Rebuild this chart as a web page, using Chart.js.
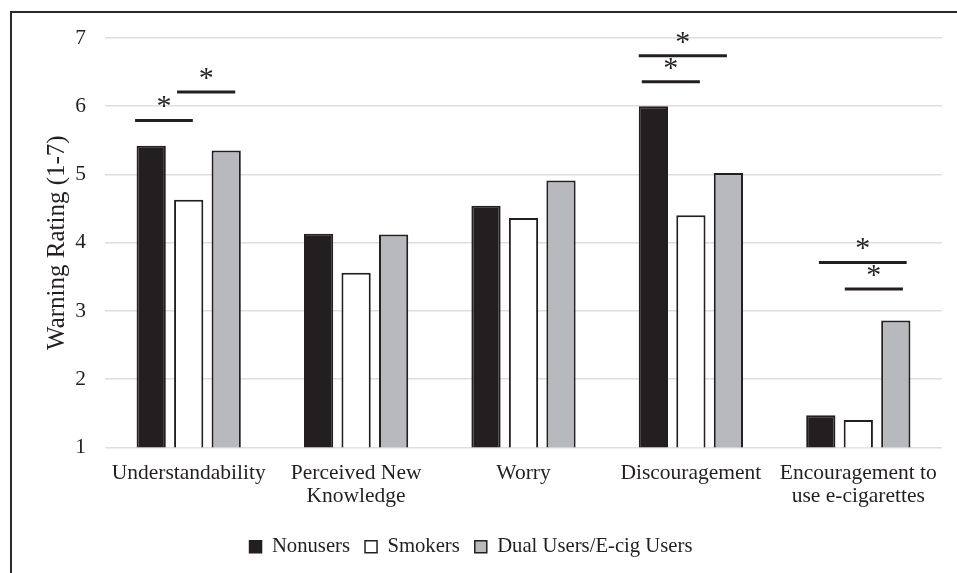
<!DOCTYPE html>
<html>
<head>
<meta charset="utf-8">
<script src="https://cdn.jsdelivr.net/npm/chart.js@4.4.1/dist/chart.umd.min.js"></script>
<style>
  html, body { margin: 0; padding: 0; background: #fff; overflow: hidden; }
  #wrap { position: relative; width: 957px; height: 573px; }
</style>
</head>
<body>
<div id="wrap"><canvas id="chart" width="957" height="573"></canvas></div>
<script>
// data
const categories = ['Understandability', ['Perceived New', 'Knowledge'], 'Worry', 'Discouragement', ['Encouragement to', 'use e-cigarettes']];
const nonusers = [5.42, 4.13, 4.54, 6.00, 1.47];
const smokers = [4.63, 3.56, 4.36, 4.40, 1.40];
const dualUsers = [5.35, 4.12, 4.91, 5.02, 2.86];
const yTicks = [1, 2, 3, 4, 5, 6, 7];

// significance bars: category index, start/end in bar slots from category centre, y value
const sigCat = [0, 0, 3, 3, 4, 4];
const sigFrom = [-1.43, -0.31, -1.39, -1.31, -1.05, -0.36];
const sigTo = [0.11, 1.24, 0.96, 0.24, 1.29, 1.19];
const sigY = [5.79, 6.21, 6.74, 6.36, 3.71, 3.32];

const serif = "'Liberation Serif', 'DejaVu Serif', serif";
const ink = '#231f20';

// frame around the figure (top and left edge visible)
const framePlugin = {
  id: 'frame',
  afterDraw(chart) {
    const ctx = chart.ctx;
    ctx.save();
    ctx.strokeStyle = '#2a2a2a';
    ctx.lineWidth = 2;
    ctx.beginPath();
    ctx.moveTo(11, 600);
    ctx.lineTo(11, 12);
    ctx.lineTo(960, 12);
    ctx.stroke();
    ctx.restore();
  }
};

// significance lines with asterisks
const sigPlugin = {
  id: 'sig',
  afterDatasetsDraw(chart) {
    const ctx = chart.ctx;
    const x = chart.scales.x, y = chart.scales.y;
    const catW = x.width / categories.length;
    const slot = catW * 0.672 / 3;
    ctx.save();
    ctx.strokeStyle = ink;
    ctx.fillStyle = ink;
    ctx.lineWidth = 3;
    ctx.font = '30px ' + serif;
    ctx.textAlign = 'center';
    ctx.textBaseline = 'middle';
    for (let i = 0; i < sigCat.length; i++) {
      const cx = x.getPixelForValue(sigCat[i]);
      const x1 = cx + sigFrom[i] * slot;
      const x2 = cx + sigTo[i] * slot;
      const py = y.getPixelForValue(sigY[i]);
      ctx.beginPath();
      ctx.moveTo(x1, py);
      ctx.lineTo(x2, py);
      ctx.stroke();
      ctx.fillText('*', (x1 + x2) / 2, py - 13);
    }
    ctx.restore();
  }
};

const common = { categoryPercentage: 0.672, barPercentage: 0.78, borderWidth: 2, borderSkipped: 'bottom' };

new Chart(document.getElementById('chart'), {
  type: 'bar',
  data: {
    labels: categories,
    datasets: [
      { label: 'Nonusers', data: nonusers, backgroundColor: ink, borderColor: ink, ...common },
      { label: 'Smokers', data: smokers, backgroundColor: '#ffffff', borderColor: ink, ...common },
      { label: 'Dual Users/E-cig Users', data: dualUsers, backgroundColor: '#b8b9bc', borderColor: ink, ...common }
    ]
  },
  options: {
    responsive: false,
    animation: false,
    layout: { padding: { left: 0, right: 15, top: 38, bottom: 6 } },
    plugins: {
      tooltip: { enabled: false },
      legend: {
        position: 'bottom',
        labels: {
          font: { family: serif, size: 20.7 },
          color: ink,
          boxWidth: 12,
          boxHeight: 12,
          padding: 15,
          generateLabels(chart) {
            return chart.data.datasets.map((ds, i) => ({
              text: ds.label,
              fillStyle: ds.backgroundColor,
              strokeStyle: ink,
              lineWidth: 1.5,
              datasetIndex: i,
              fontColor: ink
            }));
          }
        }
      }
    },
    scales: {
      x: {
        grid: { display: false },
        border: { display: false },
        ticks: { font: { family: serif, size: 21.5, lineHeight: 1.1 }, color: ink, padding: 6, maxRotation: 0, autoSkip: false },
        afterFit(s) { s.height = 74; }
      },
      y: {
        min: 1,
        max: 7,
        afterBuildTicks(s) { s.ticks = yTicks.map(v => ({ value: v })); },
        grid: { color: '#dedede', lineWidth: 1.5, drawTicks: false },
        border: { display: false },
        ticks: { font: { family: serif, size: 21.5 }, color: ink, padding: 19 },
        title: { display: true, text: 'Warning Rating (1-7)', font: { family: serif, size: 25 }, color: ink, padding: { top: 42, bottom: 0 } },
        afterFit(s) { s.width = 105; }
      }
    }
  },
  plugins: [framePlugin, sigPlugin]
});
</script>
</body>
</html>
